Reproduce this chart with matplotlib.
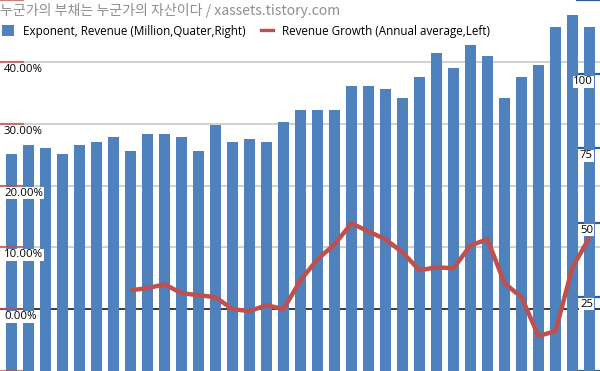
import numpy as np
import matplotlib
matplotlib.use("Agg")
import matplotlib.pyplot as plt
from matplotlib.patches import Patch
from matplotlib.lines import Line2D

plt.rcParams['font.family'] = ['Open Sans', 'Noto Sans CJK KR', 'DejaVu Sans']

# quarterly revenue (million, right axis)
revenue = [73.1, 76.1, 75.1, 73.1, 76.1, 77.2, 78.8, 74.1, 79.9, 79.9,
           78.8, 74.1, 82.9, 77.2, 78.2, 77.2, 83.9, 87.9, 87.9, 87.9,
           96.0, 96.0, 95.0, 92.0, 99.1, 107.1, 102.1, 109.8, 106.1, 92.0,
           99.1, 103.1, 115.9, 119.9, 115.9]
# annual average revenue growth in % (left axis), starts at 8th quarter
growth_start = 7
growth = [3.06, 3.39, 4.03, 2.58, 2.26, 1.94, 0.0, -0.32, 0.65, 0.0,
          4.68, 8.06, 10.48, 13.87, 12.58, 11.29, 9.19, 6.29, 6.77, 6.61,
          10.32, 11.29, 4.19, 1.94, -4.35, -3.55, 6.77, 11.61]

left_ticks = [-10, 0, 10, 20, 30, 40, 50]
left_labels = [40, 30, 20, 10, 0]
right_ticks = [0, 25, 50, 75, 100, 125]
right_labels = [25, 50, 75, 100]

title = "누군가의 부채는 누군가의 자산이다 / xassets.tistory.com"
bar_name = "Exponent, Revenue (Million,Quater,Right)"
line_name = "Revenue Growth (Annual average,Left)"

BLUE = "#4f81bd"
RED = "#c0504d"
TICKBLUE = "#2c5d9e"

fig = plt.figure(figsize=(6, 3.71), dpi=100)
axb = fig.add_axes([0, 0, 1, 1])
ax = axb.twinx()
ax.set_zorder(axb.get_zorder() + 1)
ax.patch.set_visible(False)

n = len(revenue)
xs = np.arange(n)
xlim = (-11.5 / 17, (600 - 11.5) / 17)

axb.set_xlim(*xlim)
axb.set_ylim(0, 125)
ax.set_ylim(-10, 50)

# gridlines (left scale) drawn behind the bars
for v in left_labels:
    axb.plot([0, 1], [v, v], transform=ax.get_yaxis_transform(),
             color="#c8c8c8", lw=1.2, zorder=0)
axb.plot([0, 1], [0, 0], transform=ax.get_yaxis_transform(),
         color="#222222", lw=1.2, zorder=0)

axb.bar(xs, revenue, width=11 / 17, color=BLUE, zorder=2)

gx = np.arange(growth_start, growth_start + len(growth))
ax.plot(gx, growth, color=RED, lw=3.2, solid_joinstyle="round",
        solid_capstyle="butt", zorder=3)

for a in (ax, axb):
    for s in a.spines.values():
        s.set_visible(False)
    a.set_xticks([])

# left ticks (red, inside)
ax.yaxis.set_ticks_position("left")
ax.set_yticks(left_ticks)
ax.tick_params(axis="y", direction="in", length=17, width=1.6,
               color=RED, labelleft=False, labelright=False)
for t in ax.yaxis.get_ticklines():
    t.set_alpha(0.75)
for v in left_labels:
    ax.annotate(f"{v:.2f}%", xy=(0, v), xycoords=ax.get_yaxis_transform(),
                xytext=(4, -2), textcoords="offset pixels",
                ha="left", va="top", fontsize=8.2, color="black",
                bbox=dict(boxstyle="square,pad=0.05", fc="white", ec="none"),
                zorder=5)

# right ticks (blue, inside)
axb.yaxis.set_ticks_position("right")
axb.set_yticks(right_ticks)
axb.tick_params(axis="y", direction="in", length=17, width=1.6,
                color=TICKBLUE, labelleft=False, labelright=False)
for v in right_labels:
    axb.annotate(f"{v}", xy=(1, v), xycoords=axb.get_yaxis_transform(),
                 xytext=(-7, -2), textcoords="offset pixels",
                 ha="right", va="top", fontsize=8.2, color="black",
                 bbox=dict(boxstyle="square,pad=0.05", fc="white", ec="none"),
                 zorder=5)

fig.text(0.0, 1 - 10 / 371, title, ha="left", va="center", fontsize=10.1,
         color="#8f8f8f", weight="light",
         family=['Noto Sans CJK KR', 'DejaVu Sans'])

handles = [Patch(facecolor=BLUE, edgecolor="none"),
           Line2D([0], [0], color=RED, lw=2.4)]
fig.legend(handles, [bar_name, line_name], loc="center left",
           bbox_to_anchor=(0.0, 1 - 31 / 371), ncol=2, frameon=False,
           fontsize=8.4, handlelength=1.0, handleheight=0.95,
           handletextpad=0.75, columnspacing=1.35, borderaxespad=0,
           borderpad=0.2)

fig.savefig("out.png", dpi=100)
